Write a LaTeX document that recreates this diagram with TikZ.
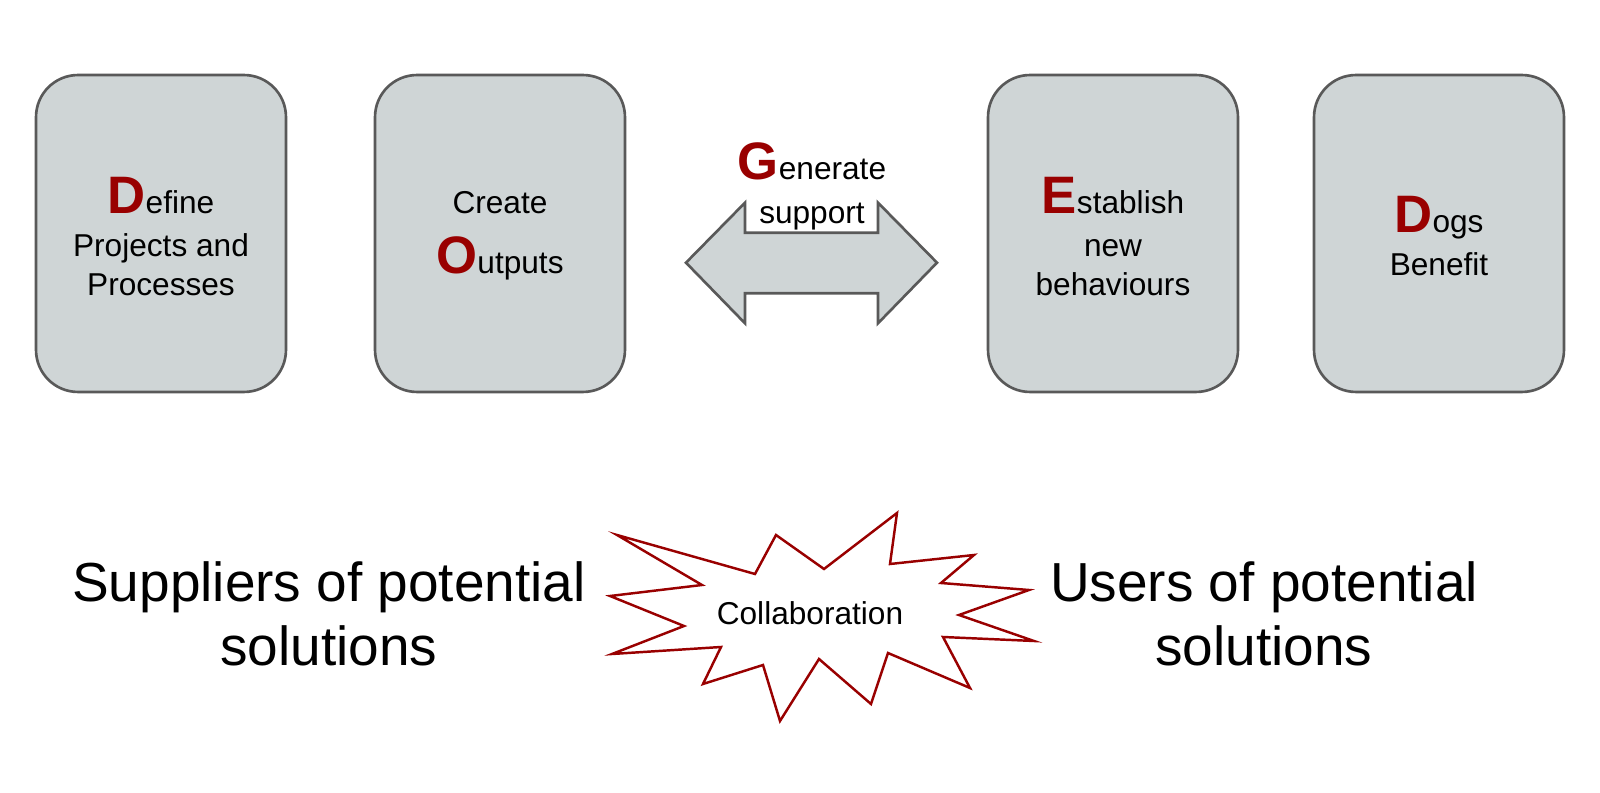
\documentclass[tikz,border=0pt]{standalone}
\usepackage{fontspec}
\setmainfont{Liberation Sans}
\usetikzlibrary{positioning}
\definecolor{boxgrey}{HTML}{CFD5D6}
\definecolor{edgegrey}{HTML}{595959}
\definecolor{initred}{HTML}{990000}
\newcommand{\initial}[1]{{\fontsize{30}{30}\selectfont\bfseries\color{initred}#1}}
\tikzset{
  stagebox/.style={draw=edgegrey, fill=boxgrey, line width=1.5pt, rounded corners=0.84cm,
    minimum width=5cm, minimum height=6.34cm},
  stagetext/.style={align=center, font=\fontsize{18}{21.85}\selectfont, inner sep=0pt, anchor=north},
  sidetext/.style={align=center, font=\fontsize{31.3}{36.6}\selectfont, inner sep=0pt}
}
\begin{document}
\begin{tikzpicture}[x=0.02cm, y=-0.02cm]
  \useasboundingbox (0,0) rectangle (1600,793);
  % stage boxes
  \node[stagebox] (define) at (161,233.5) {};
  \node[stagebox] (outputs) at (500,233.5) {};
  \node[stagebox] (establish) at (1113,233.5) {};
  \node[stagebox] (dogs) at (1439,233.5) {};
  \node[stagetext] (definetext) at (161,176.7) {\initial{D}efine\\[2.8pt]Projects and\\Processes};
  \node[stagetext] (outputstext) at (500,190.7) {Create\\[12.5pt]\initial{O}utputs};
  \node[stagetext] (establishtext) at (1113,176.7) {\initial{E}stablish\\[2.8pt]new\\behaviours};
  \node[stagetext] (dogstext) at (1439,196) {\initial{D}ogs\\[2.8pt]Benefit};
  % double arrow
  \draw[draw=edgegrey, fill=boxgrey, line width=1.5pt, line join=miter]
    (686,262.7) -- (745,202.7) -- (745,232.7) -- (878,232.7) -- (878,202.7) -- (937,262.7)
    -- (878,323.3) -- (878,293.3) -- (745,293.3) -- (745,323.3) -- cycle;
  \node[stagetext] (support) at (812,142.7) {\initial{G}enerate\\[2.8pt]support};
  % collaboration burst
  \draw[draw=initred, fill=white, line width=1.4pt, line join=miter]
    (617,535) -- (755,574) -- (776,535) -- (824,569) -- (897,513) -- (890,564)
    -- (974,555) -- (941,583) -- (1029,590) -- (959,615) -- (1034,641) -- (943,637)
    -- (970,688) -- (888,653) -- (871,704) -- (819,659) -- (780,721) -- (763,665)
    -- (703,684) -- (721,647) -- (612,654) -- (684,626) -- (610,596) -- (702,585) -- cycle;
  \node[stagetext, anchor=center] (collab) at (810,613) {Collaboration};
  % the two sides
  \node[sidetext] (suppliers) at (329,614) {Suppliers of potential\\solutions};
  \node[sidetext] (users) at (1264,614) {Users of potential\\solutions};
\end{tikzpicture}
\end{document}
